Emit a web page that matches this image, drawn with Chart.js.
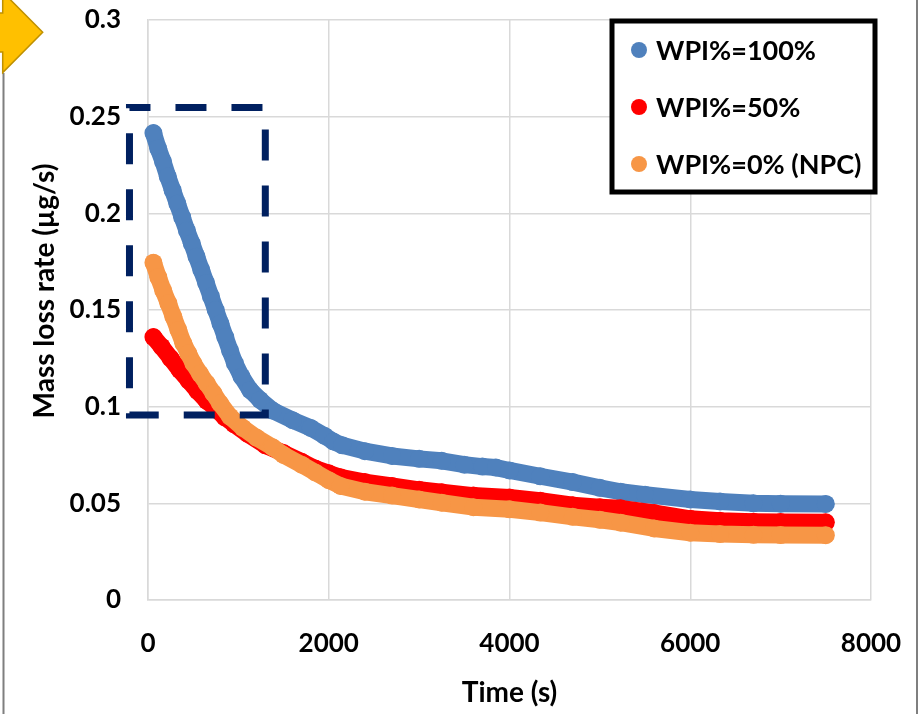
<!DOCTYPE html>
<html>
<head>
<meta charset="utf-8">
<script src="https://cdn.jsdelivr.net/npm/chart.js@4.4.0/dist/chart.umd.min.js"></script>
<style>
  body { margin: 0; background: #fff; }
  #wrap { width: 922px; height: 714px; }
</style>
</head>
<body>
<div id="wrap"><canvas id="myChart" width="922" height="714"></canvas></div>
<script>
// Datos: tiempo (s) y tasa de pérdida de masa (µg/s)
var wpi100Time = [60, 113, 166, 219, 272, 325, 378, 431, 484, 537, 590, 643, 696, 749, 802, 855, 908, 961,
                  1035, 1130, 1240, 1380, 1600, 1800, 1950, 2050, 2150, 2400, 2700, 3000, 3250, 3500, 3700,
                  3850, 4000, 4340, 4700, 5000, 5230, 5500, 6000, 6330, 6700, 7000, 7500];
var wpi100Rate = [0.2415, 0.2335, 0.2268, 0.219, 0.212, 0.205, 0.198, 0.191, 0.1845, 0.1776, 0.1707, 0.164,
                  0.157, 0.150, 0.143, 0.136, 0.129, 0.1225, 0.1155, 0.1086, 0.1035, 0.098, 0.093, 0.089,
                  0.085, 0.082, 0.080, 0.077, 0.0745, 0.073, 0.072, 0.070, 0.069, 0.0685, 0.067, 0.064,
                  0.061, 0.058, 0.056, 0.0545, 0.052, 0.051, 0.050, 0.0498, 0.0497];

var wpi50Time = [60, 150, 250, 350, 450, 550, 650, 750, 850, 950, 1100, 1300, 1500, 1700, 1850, 2000, 2130,
                 2400, 2700, 3000, 3250, 3600, 4000, 4340, 4700, 5000, 5230, 5600, 6000, 6330, 6700, 7000, 7500];
var wpi50Rate = [0.136, 0.131, 0.125, 0.119, 0.1135, 0.108, 0.103, 0.099, 0.0945, 0.091, 0.086, 0.080, 0.076,
                 0.0715, 0.068, 0.0655, 0.0635, 0.061, 0.059, 0.057, 0.0557, 0.054, 0.053, 0.0514, 0.049,
                 0.048, 0.0474, 0.045, 0.042, 0.041, 0.0405, 0.0403, 0.0402];

var wpi0Time = [60, 114, 169, 225, 280, 336, 391, 446, 502, 576, 650, 723, 797, 908, 1050, 1200, 1380, 1500,
                1700, 1850, 2000, 2130, 2400, 2700, 3000, 3250, 3600, 4000, 4340, 4700, 5000, 5230, 5600,
                6000, 6330, 6700, 7000, 7500];
var wpi0Rate = [0.1745, 0.167, 0.160, 0.1535, 0.1466, 0.1397, 0.1328, 0.1276, 0.1224, 0.117, 0.112, 0.107,
                0.1017, 0.0948, 0.089, 0.084, 0.079, 0.075, 0.070, 0.066, 0.062, 0.059, 0.056, 0.054, 0.052,
                0.0503, 0.048, 0.0469, 0.0452, 0.043, 0.0415, 0.040, 0.037, 0.0348, 0.0341, 0.0337, 0.0336,
                0.0335];

var seriesLabels = ['WPI%=100%', 'WPI%=50%', 'WPI%=0% (NPC)'];
var seriesColors = ['#4f81bd', '#ff0000', '#f79646'];

var xTicks = [0, 2000, 4000, 6000, 8000];
var xTickLabels = ['0', '2000', '4000', '6000', '8000'];
var yTicks = [0, 0.05, 0.1, 0.15, 0.2, 0.25, 0.3];
var yTickLabels = ['0', '0.05', '0.1', '0.15', '0.2', '0.25', '0.3'];
var yTitle = 'Mass loss rate (µg/s)';

// recuadro punteado (en unidades de los ejes)
var boxTime = [-205, 1298];
var boxRate = [0.0957, 0.2548];

function pares(t, v) {
    return t.map(function (x, i) { return { x: x, y: v[i] }; });
}

function serie(label, color, t, v, order) {
    return {
        label: label,
        data: pares(t, v),
        backgroundColor: color,
        borderColor: color,
        showLine: true,
        borderWidth: 17,
        borderCapStyle: 'round',
        borderJoinStyle: 'round',
        pointRadius: 9,
        pointHoverRadius: 9,
        pointBorderWidth: 0,
        clip: false,
        order: order
    };
}

var extras = {
    id: 'extras',
    afterDatasetsDraw: function (chart) {
        var ctx = chart.ctx, sx = chart.scales.x, sy = chart.scales.y;
        var l = sx.getPixelForValue(boxTime[0]), r = sx.getPixelForValue(boxTime[1]);
        var t = sy.getPixelForValue(boxRate[1]), b = sy.getPixelForValue(boxRate[0]);
        ctx.save();
        ctx.strokeStyle = '#002060';
        ctx.lineWidth = 7;
        ctx.setLineDash([31, 25]);
        ctx.lineDashOffset = 10;
        ctx.strokeRect(l, t, r - l, b - t);
        ctx.restore();
    },
    afterDraw: function (chart) {
        var ctx = chart.ctx, area = chart.chartArea;
        ctx.save();
        // título del eje y (algo por encima del centro, como en la figura)
        ctx.translate(45, (area.top + area.bottom) / 2 - 19);
        ctx.rotate(-Math.PI / 2);
        ctx.font = 'bold 28px Lato';
        ctx.fillStyle = '#000';
        ctx.textAlign = 'center';
        ctx.textBaseline = 'middle';
        ctx.fillText(yTitle, 0, 0);
        ctx.restore();

        ctx.save();
        // leyenda con marco negro
        ctx.fillStyle = '#fff';
        ctx.fillRect(612, 21, 263, 171);
        ctx.lineWidth = 5;
        ctx.strokeStyle = '#000';
        ctx.strokeRect(612, 21, 263, 171);
        ctx.font = 'bold 27px Lato';
        ctx.textBaseline = 'middle';
        chart.data.datasets.forEach(function (ds, i) {
            var cy = 50 + i * 57;
            ctx.fillStyle = ds.backgroundColor;
            ctx.beginPath();
            ctx.arc(639, cy, 8, 0, Math.PI * 2);
            ctx.fill();
            ctx.fillStyle = '#000';
            ctx.fillText(ds.label, 656, cy + 1);
        });
        // marco gris
        ctx.strokeStyle = '#7f7f7f';
        ctx.lineWidth = 2;
        ctx.beginPath();
        ctx.moveTo(3.5, 73); ctx.lineTo(3.5, 714);
        ctx.moveTo(917, 0); ctx.lineTo(917, 714);
        ctx.stroke();
        // flecha amarilla
        ctx.fillStyle = '#ffc000';
        ctx.strokeStyle = '#bf9000';
        ctx.lineWidth = 1.5;
        ctx.beginPath();
        ctx.moveTo(-5, 13); ctx.lineTo(2.7, 13); ctx.lineTo(2.7, -8);
        ctx.lineTo(42.7, 32.3); ctx.lineTo(2.7, 72.6); ctx.lineTo(2.7, 52); ctx.lineTo(-5, 52);
        ctx.closePath();
        ctx.fill();
        ctx.stroke();
        ctx.restore();
    }
};

function dibujar() {
    Chart.defaults.font.family = 'Lato';
    Chart.defaults.font.weight = 'bold';
    Chart.defaults.color = '#000';

    var ctx = document.getElementById('myChart').getContext('2d');
    var myChart = new Chart(ctx, {
        type: 'scatter',
        data: {
            datasets: [
                serie(seriesLabels[0], seriesColors[0], wpi100Time, wpi100Rate, 3),
                serie(seriesLabels[1], seriesColors[1], wpi50Time, wpi50Rate, 2),
                serie(seriesLabels[2], seriesColors[2], wpi0Time, wpi0Rate, 1)
            ]
        },
        options: {
            responsive: false,
            animation: false,
            layout: { autoPadding: false, padding: { left: 0, top: 20, right: 51, bottom: 0 } },
            plugins: { legend: { display: false }, tooltip: { enabled: false } },
            scales: {
                x: {
                    type: 'linear',
                    min: 0,
                    max: 8000,
                    afterBuildTicks: function (s) { s.ticks = xTicks.map(function (v) { return { value: v }; }); },
                    afterFit: function (s) {
                        s.height = 114;
                        s.paddingLeft = 0; s.paddingRight = 0; s.paddingTop = 0; s.paddingBottom = 0;
                    },
                    grid: { color: '#d9d9d9', lineWidth: 1.5, drawTicks: false },
                    border: { color: '#d9d9d9', width: 1.5 },
                    ticks: {
                        font: { size: 26, weight: 'bold' },
                        padding: 28,
                        maxRotation: 0,
                        callback: function (v) { return xTickLabels[xTicks.indexOf(v)]; }
                    },
                    title: { display: true, text: 'Time (s)', font: { size: 28, weight: 'bold' },
                             padding: { top: 0, bottom: 4 } }
                },
                y: {
                    min: 0,
                    max: 0.3,
                    afterBuildTicks: function (s) { s.ticks = yTicks.map(function (v) { return { value: v }; }); },
                    afterFit: function (s) {
                        s.width = 148;
                        s.paddingLeft = 0; s.paddingRight = 0; s.paddingTop = 0; s.paddingBottom = 0;
                    },
                    grid: { color: '#d9d9d9', lineWidth: 1.5, drawTicks: false },
                    border: { color: '#d9d9d9', width: 1.5 },
                    ticks: {
                        font: { size: 26, weight: 'bold' },
                        padding: 27,
                        callback: function (v) { return yTickLabels[yTicks.indexOf(v)]; }
                    },
                    title: { display: false }
                }
            }
        },
        plugins: [extras]
    });
}

document.fonts.load('bold 26px Lato').then(dibujar, dibujar);
</script>
</body>
</html>
